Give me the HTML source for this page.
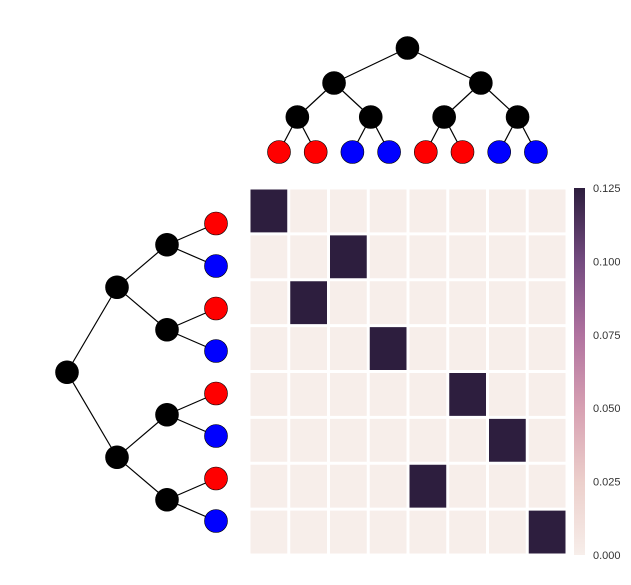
<!DOCTYPE html>
<html><head><meta charset="utf-8"><style>
body{margin:0;background:#fff;}
svg{display:block;font-family:"Liberation Sans",sans-serif;}
</style></head><body>
<svg width="631" height="585" viewBox="0 0 631 585">
<defs>
<linearGradient id="cb" x1="0" y1="1" x2="0" y2="0">
<stop offset="0" stop-color="#f7eeea"/>
<stop offset="0.2" stop-color="#eccfcb"/>
<stop offset="0.4" stop-color="#d7a0b2"/>
<stop offset="0.6" stop-color="#b0729f"/>
<stop offset="0.8" stop-color="#744b80"/>
<stop offset="1" stop-color="#2d1e3e"/>
</linearGradient>
</defs>
<g id="top-tree"></g>
<g id="left-tree"></g>
<g id="heatmap"></g>
<rect x="574" y="188" width="11" height="367" fill="url(#cb)"/>
<g id="cbticks"></g>
</svg>
<script>
const topLeafColors=["red","red","blue","blue","red","red","blue","blue"];
const leftLeafColors=["red","blue","red","blue","red","blue","red","blue"];
const darkCols=[0,2,1,3,5,6,4,7];
const cellMax=0.125;
const tickLabels=["0.000","0.025","0.050","0.075","0.100","0.125"];
const tickValues=[0,0.025,0.05,0.075,0.1,0.125];
const NS="http://www.w3.org/2000/svg";
function mk(t,a,p){const e=document.createElementNS(NS,t);for(const k in a)e.setAttribute(k,a[k]);p.appendChild(e);return e;}
const hx0=249,hx1=567,hy0=188,hy1=555;
const cw=(hx1-hx0)/8,ch=(hy1-hy0)/8;
const hm=document.getElementById('heatmap');
for(let r=0;r<8;r++)for(let c=0;c<8;c++){
 const v=darkCols[r]===c?cellMax:0;
 const e=mk('rect',{x:hx0+c*cw+1.5,y:hy0+r*ch+1.5,width:cw-3,height:ch-3,fill:v>0?'#2d1e3e':'#f7eeea'},hm);
 
 
}
const cbt=document.getElementById('cbticks');
tickValues.forEach((v,i)=>{
 const y=hy1-(v/cellMax)*(hy1-hy0);
 const t=mk('text',{x:593,y:y+4,'font-size':11,fill:'#333'},cbt);
 t.textContent=tickLabels[i];
 
 
});
function tree(g,leafPos,colors,pos){
 // binary tree with 8 leaves; pos(level,index) -> [x,y]
 const lines=mk('g',{},g),nodes=mk('g',{},g);
 for(let lvl=0;lvl<4;lvl++){
  const n=1<<lvl;
  for(let i=0;i<n;i++){
   const p=pos(lvl,i);
   if(lvl<3){for(const ci of [2*i,2*i+1]){const q=pos(lvl+1,ci);mk('line',{x1:p[0],y1:p[1],x2:q[0],y2:q[1],stroke:'#000','stroke-width':1.2},lines);}}
   const c=mk('circle',{cx:p[0],cy:p[1],r:11.5,fill:lvl===3?colors[i]:'#000',stroke:'#000','stroke-width':0.6},nodes);
   
   
  }
 }
}
const leafX=i=>hx0+cw*(i+0.5)+ (i*0)-10;
tree(document.getElementById('top-tree'),null,topLeafColors,(l,i)=>{
 const span=8>>l; const start=i*span, end=start+span-1;
 const lx=k=>279+k*36.7;
 return [(lx(start)+lx(end))/2,[48,83,117,152][l]];
});
tree(document.getElementById('left-tree'),null,leftLeafColors,(l,i)=>{
 const span=8>>l; const start=i*span, end=start+span-1;
 const ly=k=>223.5+k*42.5;
 return [[67,117,167,216][l],(ly(start)+ly(end))/2];
});
</script>
</body></html>
